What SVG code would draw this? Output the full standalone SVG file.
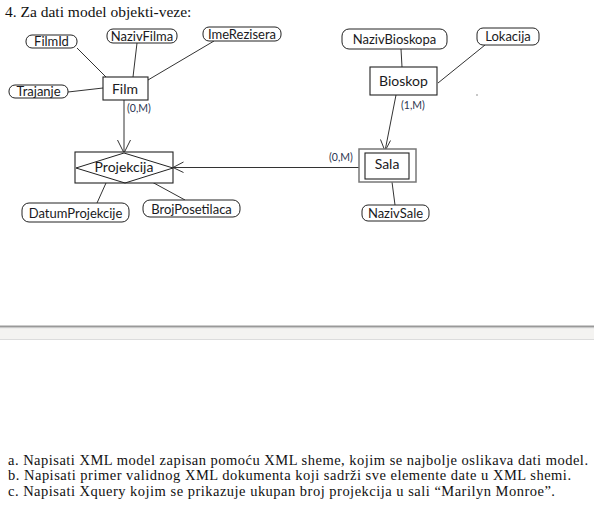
<svg xmlns="http://www.w3.org/2000/svg" width="594" height="512" viewBox="0 0 594 512">
<style>
.serif{font-family:"Liberation Serif","Times New Roman",serif;font-size:15.5px;fill:#111}
.body{font-family:"Liberation Serif","Times New Roman",serif;font-size:14.5px;fill:#111}
.lbl{font-family:Lato,"Open Sans",sans-serif;font-size:14px;fill:#1a1a22;text-anchor:middle}
.alb{font-family:Lato,"Open Sans",sans-serif;font-size:13px;fill:#1a1a22;text-anchor:middle}
.card{font-family:Lato,"Open Sans",sans-serif;font-size:10.5px;fill:#2a3550}
.attr{fill:#fff;stroke:#222;stroke-width:1}
.ent{fill:#fff;stroke:#222;stroke-width:1.1}
.ln{stroke:#333;stroke-width:1;fill:none}
</style>
<rect x="0" y="0" width="594" height="512" fill="#fff"/>
<text class="serif" x="5" y="17">4. Za dati model objekti-veze:</text>

<g id="connectors">
<line class="ln" x1="77" y1="48" x2="106" y2="77"/>
<line class="ln" x1="137" y1="43" x2="133" y2="77"/>
<line class="ln" x1="214" y1="41" x2="148" y2="80"/>
<line class="ln" x1="68" y1="92" x2="103" y2="88"/>
<line class="ln" x1="124" y1="100" x2="124" y2="153"/>
<polyline class="ln" points="117.5,140 124,153 130.5,140"/>
<line class="ln" x1="359" y1="167.5" x2="173" y2="167.5"/>
<polyline class="ln" points="183.5,162 173,167.5 183.5,172.5"/>
<line class="ln" x1="396" y1="95" x2="385" y2="151"/>
<polyline class="ln" points="380.5,139.5 385,151 390.5,140.5"/>
<line class="ln" x1="106" y1="183" x2="97" y2="203"/>
<line class="ln" x1="152" y1="182" x2="185" y2="200"/>
<line class="ln" x1="392" y1="182" x2="395" y2="205"/>
<line class="ln" x1="401" y1="49" x2="402" y2="67"/>
<line class="ln" x1="485" y1="45" x2="438" y2="83"/>
</g>

<g id="FilmId"><rect class="attr" x="26" y="35" width="51" height="13" rx="6"/><text class="alb" x="51.5" y="46">FilmId</text></g>
<g id="NazivFilma"><rect class="attr" x="107" y="29" width="70" height="14" rx="6"/><text class="alb" x="142" y="40.5">NazivFilma</text></g>
<g id="ImeRezisera"><rect class="attr" x="203" y="27" width="78" height="14" rx="6"/><text class="alb" x="242" y="38.5">ImeRezisera</text></g>
<g id="Trajanje"><rect class="attr" x="9" y="85" width="59" height="13" rx="6"/><text class="alb" x="38.5" y="96">Trajanje</text></g>
<g id="Film"><rect class="ent" x="103" y="77" width="45" height="23"/><text class="lbl" x="125" y="94">Film</text></g>
<text class="card" x="127" y="112">(0,M)</text>

<g id="NazivBioskopa"><rect class="attr" x="342" y="29" width="105" height="20" rx="7"/><text class="alb" x="394.5" y="44">NazivBioskopa</text></g>
<g id="Lokacija"><rect class="attr" x="477" y="28" width="62" height="17" rx="6"/><text class="alb" x="508" y="41">Lokacija</text></g>
<g id="Bioskop"><rect class="ent" x="370" y="67" width="67" height="28"/><text class="lbl" x="403.5" y="86">Bioskop</text></g>
<text class="card" x="401" y="109">(1,M)</text>
<circle cx="477" cy="95" r="0.7" fill="#666"/>

<g id="Projekcija"><rect class="ent" x="75" y="152" width="98" height="31"/><polygon points="76,168 124,153 173,168 125,183" fill="none" stroke="#222" stroke-width="1"/><text class="lbl" x="124" y="172">Projekcija</text></g>
<g id="DatumProjekcije"><rect class="attr" x="22" y="203" width="107" height="19" rx="7"/><text class="alb" x="75.5" y="217.5">DatumProjekcije</text></g>
<g id="BrojPosetilaca"><rect class="attr" x="143" y="200" width="97" height="17" rx="7"/><text class="alb" x="191.5" y="213.5">BrojPosetilaca</text></g>

<g id="Sala"><rect x="359" y="149" width="57" height="33" fill="#fff" stroke="#777" stroke-width="1.5"/><rect class="ent" x="365" y="153" width="44" height="26"/><text class="lbl" x="387" y="169">Sala</text></g>
<text class="card" x="329" y="161">(0,M)</text>
<g id="NazivSale"><rect class="attr" x="362" y="205" width="67" height="16" rx="6"/><text class="alb" x="395.5" y="217.5">NazivSale</text></g>

<rect x="0" y="325.5" width="594" height="1.5" fill="#999"/>
<rect x="0" y="327" width="594" height="1.5" fill="#c9c9c9"/>
<rect x="0" y="328.5" width="594" height="10.5" fill="#f4f3f1"/>
<rect x="0" y="339" width="594" height="1" fill="#dcdcdc"/>

<text class="body" x="8" y="464.5" textLength="580" lengthAdjust="spacing">a. Napisati XML model zapisan pomoću XML sheme, kojim se najbolje oslikava dati model.</text>
<text class="body" x="8" y="480" textLength="563" lengthAdjust="spacing">b. Napisati primer validnog XML dokumenta koji sadrži sve elemente date u XML shemi.</text>
<text class="body" x="8" y="495.5" textLength="547" lengthAdjust="spacing">c. Napisati Xquery kojim se prikazuje ukupan broj projekcija u sali “Marilyn Monroe”.</text>
</svg>
